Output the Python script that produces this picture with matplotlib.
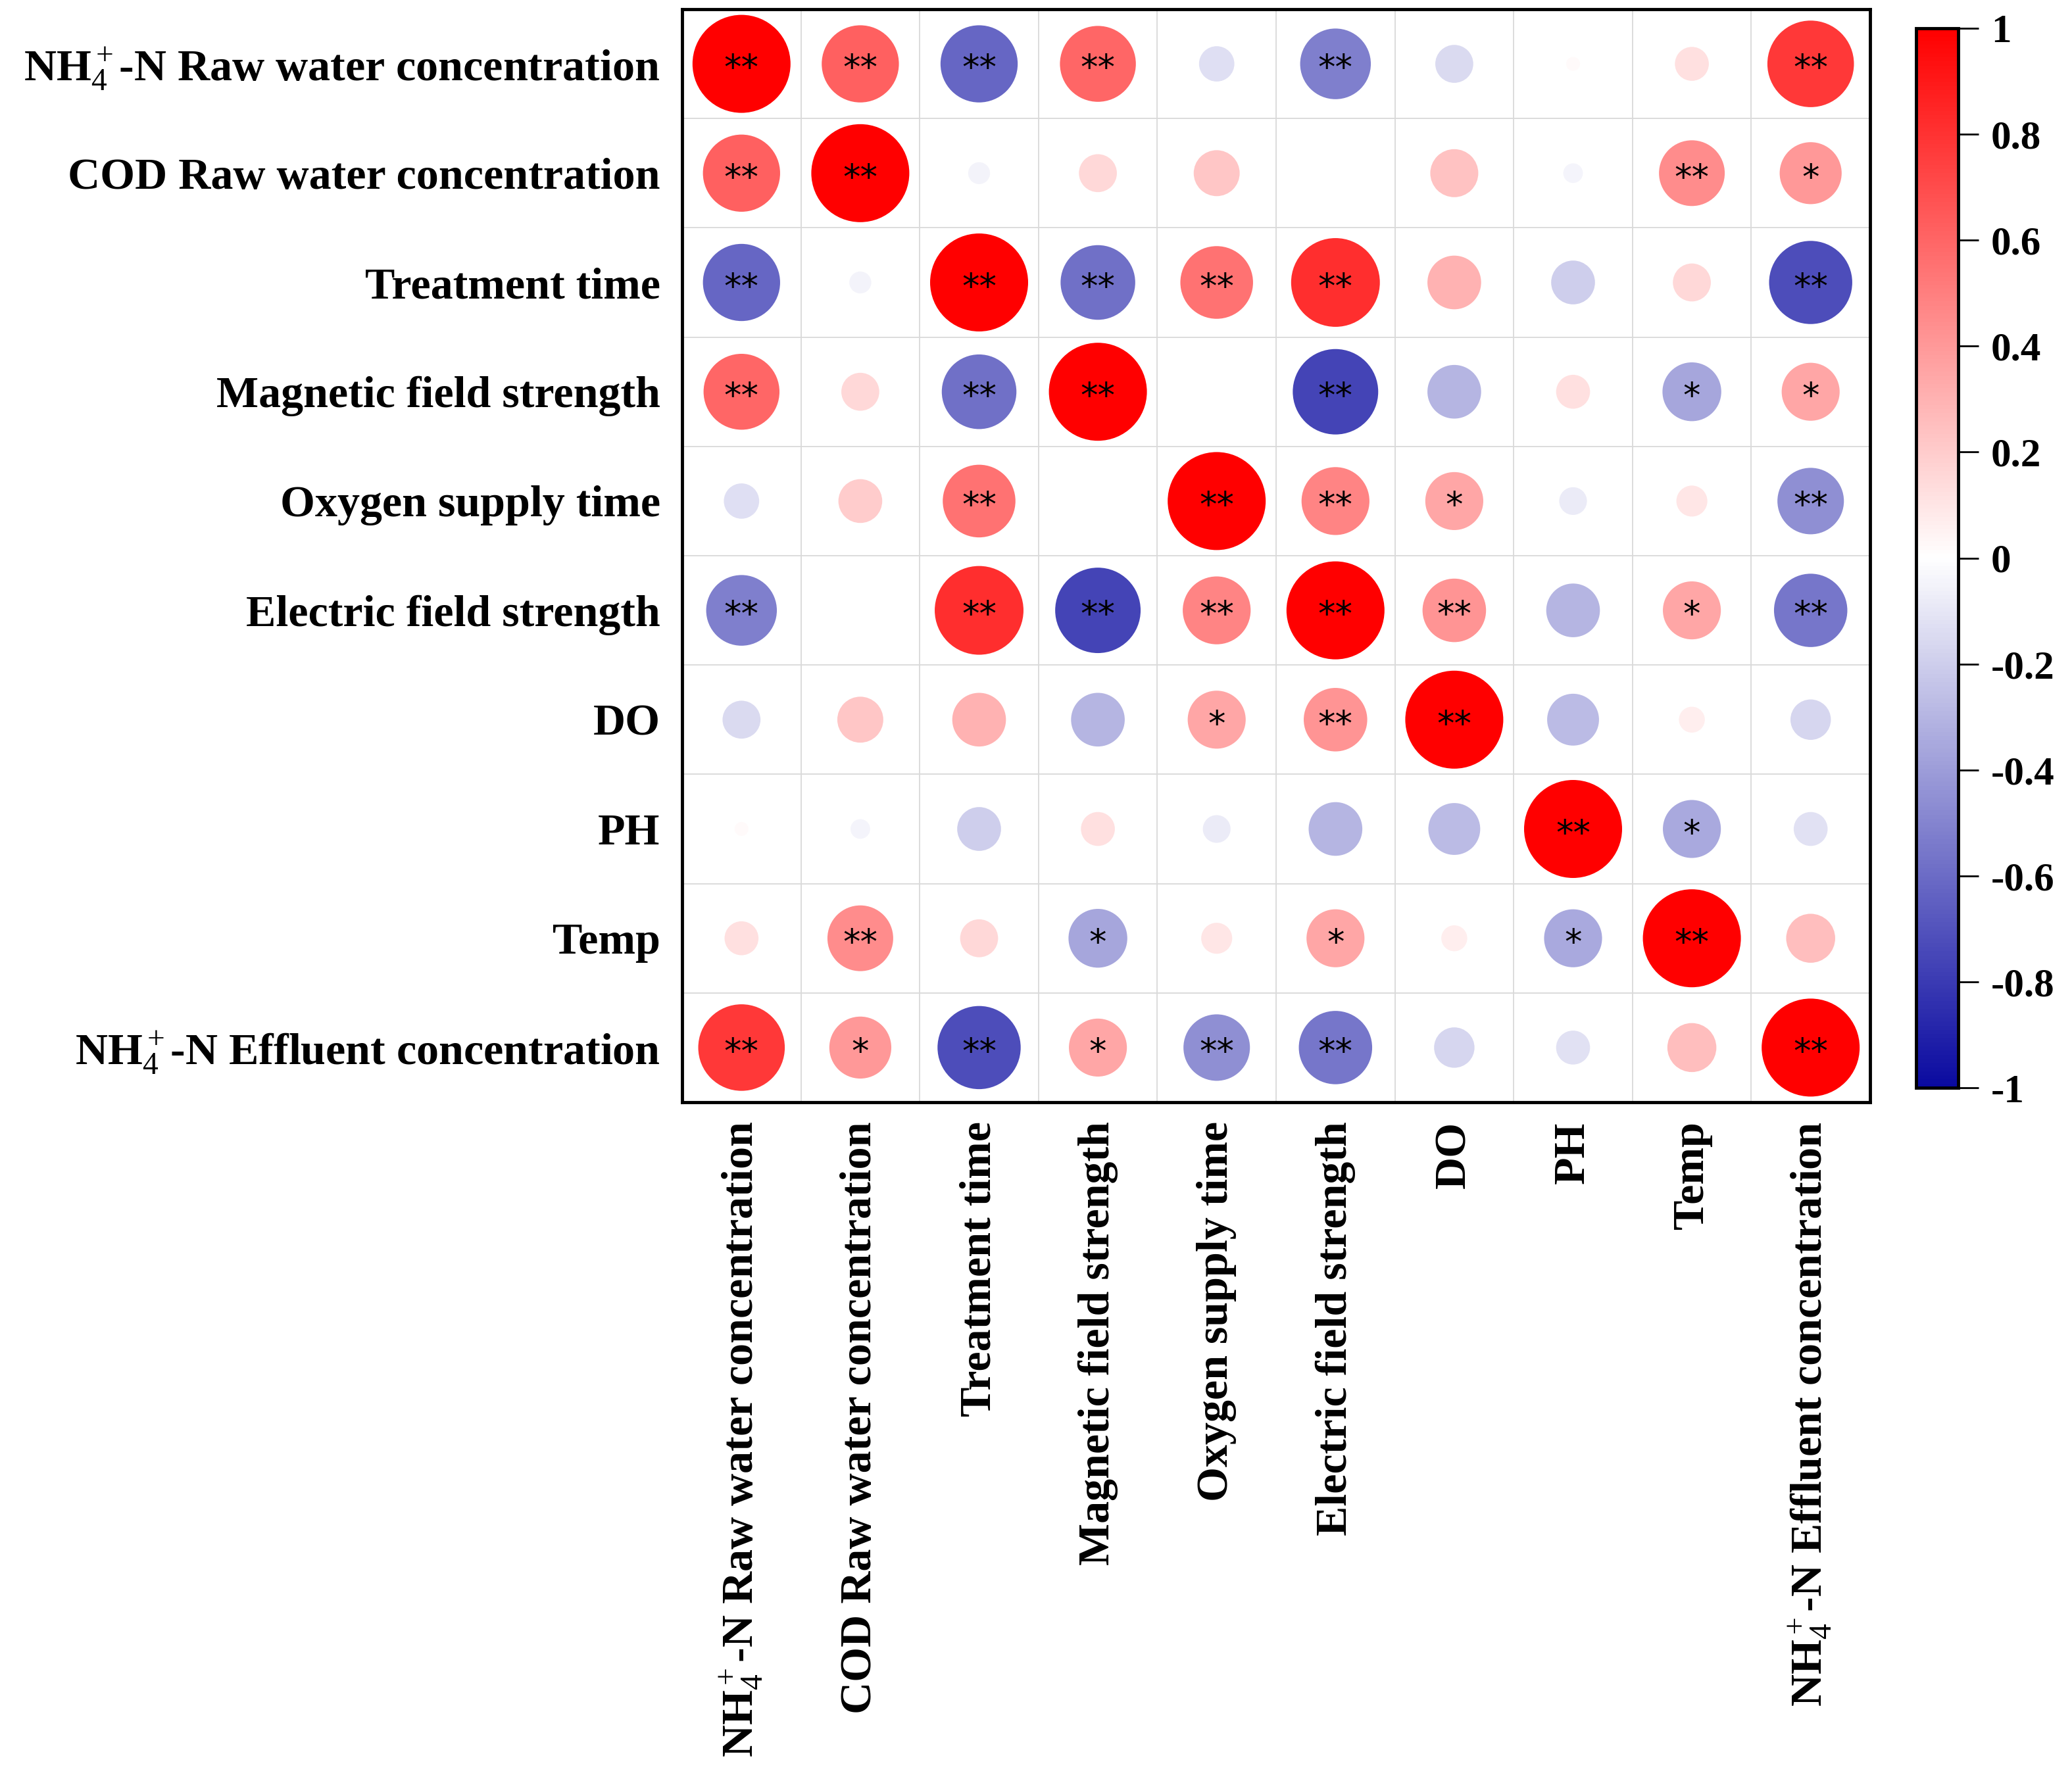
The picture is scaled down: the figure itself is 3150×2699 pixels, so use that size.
import numpy as np
import matplotlib
matplotlib.use("Agg")
import matplotlib.pyplot as plt
from matplotlib.colors import LinearSegmentedColormap, Normalize
from matplotlib.cm import ScalarMappable

plt.rcParams['font.family'] = ['Liberation Serif', 'DejaVu Serif']
plt.rcParams['mathtext.fontset'] = 'custom'
plt.rcParams['mathtext.rm'] = 'Liberation Serif'
plt.rcParams['mathtext.it'] = 'Liberation Serif:italic'
plt.rcParams['mathtext.bf'] = 'Liberation Serif:bold'

labels = [
    r'NH$_4^+$-N Raw water concentration',
    'COD Raw water concentration',
    'Treatment time',
    'Magnetic field strength',
    'Oxygen supply time',
    'Electric field strength',
    'DO',
    'PH',
    'Temp',
    r'NH$_4^+$-N Effluent concentration',
]

corr = np.array([
    [1.00, 0.62, -0.62, 0.60, -0.13, -0.52, -0.15, 0.02, 0.12, 0.78],
    [0.62, 1.00, -0.05, 0.15, 0.22, 0.00, 0.24, -0.04, 0.45, 0.40],
    [-0.62, -0.05, 1.00, -0.58, 0.55, 0.82, 0.30, -0.20, 0.15, -0.72],
    [0.60, 0.15, -0.58, 1.00, 0.00, -0.76, -0.30, 0.12, -0.36, 0.35],
    [-0.13, 0.20, 0.55, 0.00, 1.00, 0.48, 0.35, -0.08, 0.10, -0.46],
    [-0.52, 0.00, 0.82, -0.76, 0.48, 1.00, 0.42, -0.30, 0.35, -0.56],
    [-0.15, 0.22, 0.30, -0.30, 0.35, 0.42, 1.00, -0.28, 0.07, -0.17],
    [0.02, -0.04, -0.20, 0.12, -0.08, -0.30, -0.28, 1.00, -0.35, -0.12],
    [0.12, 0.45, 0.15, -0.36, 0.10, 0.35, 0.07, -0.35, 1.00, 0.25],
    [0.78, 0.40, -0.72, 0.35, -0.46, -0.56, -0.17, -0.12, 0.25, 1.00],
])

sig = [
    ['**', '**', '**', '**', '', '**', '', '', '', '**'],
    ['**', '**', '', '', '', '', '', '', '**', '*'],
    ['**', '', '**', '**', '**', '**', '', '', '', '**'],
    ['**', '', '**', '**', '', '**', '', '', '*', '*'],
    ['', '', '**', '', '**', '**', '*', '', '', '**'],
    ['**', '', '**', '**', '**', '**', '**', '', '*', '**'],
    ['', '', '', '', '*', '**', '**', '', '', ''],
    ['', '', '', '', '', '', '', '**', '*', ''],
    ['', '**', '', '*', '', '*', '', '*', '**', ''],
    ['**', '*', '**', '*', '**', '**', '', '', '', '**'],
]

cbar_ticks = [1, 0.8, 0.6, 0.4, 0.2, 0, -0.2, -0.4, -0.6, -0.8, -1]
cbar_labels = ['1', '0.8', '0.6', '0.4', '0.2', '0', '-0.2', '-0.4', '-0.6', '-0.8', '-1']

cmap = LinearSegmentedColormap.from_list('rwb', [(0.0, '#0a0aa0'), (0.5, '#ffffff'), (1.0, '#ff0000')])
norm = Normalize(-1, 1)

W, H, DPI = 3150, 2699, 100
fig = plt.figure(figsize=(W / DPI, H / DPI), dpi=DPI)

ax = fig.add_axes([1037 / W, 1 - 1676 / H, (2843 - 1037) / W, (1676 - 14) / H])
n = len(labels)
ax.set_xlim(-0.5, n - 0.5)
ax.set_ylim(n - 0.5, -0.5)

for k in range(1, n):
    ax.axhline(k - 0.5, color='#d9d9d9', lw=1.3, zorder=0)
    ax.axvline(k - 0.5, color='#d9d9d9', lw=1.3, zorder=0)

rows, cols = np.indices(corr.shape)
dmax_pt = 149 * 72 / DPI
sizes = (dmax_pt ** 2) * np.abs(corr.ravel())
ax.scatter(cols.ravel(), rows.ravel(), s=sizes, c=corr.ravel(), cmap=cmap, norm=norm,
           edgecolors='none', zorder=2)

for i in range(n):
    for j in range(n):
        if sig[i][j]:
            ax.text(j, i + 0.05, sig[i][j], ha='center', va='center', fontsize=38,
                    family='DejaVu Sans', color='black', zorder=3)

ax.set_xticks(range(n))
ax.set_yticks(range(n))
ax.set_xticklabels(labels, rotation=90, fontsize=49, fontweight='bold', va='top', ha='center')
ax.set_yticklabels(labels, fontsize=49, fontweight='bold')
ax.tick_params(axis='both', length=0)
ax.tick_params(axis='x', pad=21)
ax.tick_params(axis='y', pad=24)
for sp in ax.spines.values():
    sp.set_linewidth(3.5)
    sp.set_color('black')

cax = fig.add_axes([2913 / W, 1 - 1654 / H, (2977 - 2913) / W, (1654 - 43) / H])
sm = ScalarMappable(norm=norm, cmap=cmap)
cb = fig.colorbar(sm, cax=cax)
cb.set_ticks(cbar_ticks)
cb.set_ticklabels(cbar_labels)
cb.outline.set_linewidth(3.5)
cax.tick_params(length=22, width=2, labelsize=44, pad=14)
for t in cax.get_yticklabels():
    t.set_fontweight('bold')

fig.savefig('out.png', dpi=DPI)
